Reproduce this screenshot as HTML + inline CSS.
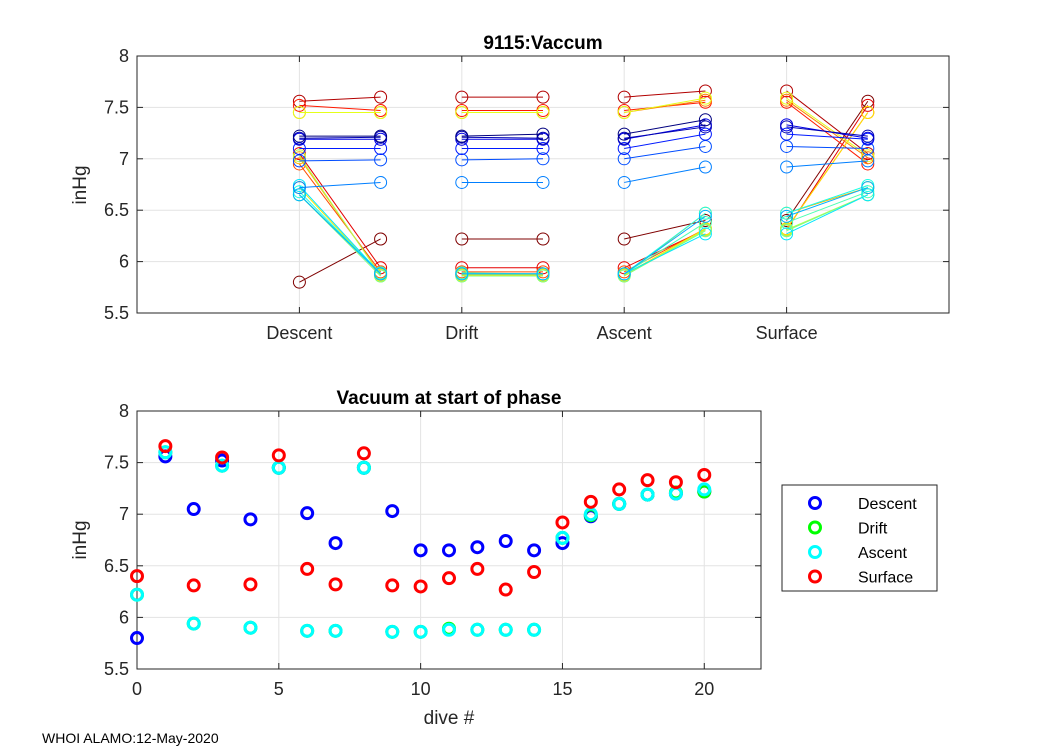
<!DOCTYPE html>
<html><head><meta charset="utf-8"><style>
body{margin:0;background:#fff;}
svg text{font-family:"Liberation Sans",sans-serif;}
</style></head><body>
<svg id="c" width="1050" height="750" xmlns="http://www.w3.org/2000/svg"></svg>
<script>
const dives=[0,1,2,3,4,5,6,7,8,9,10,11,12,13,14,15,16,17,18,19,20];
const descentV=[5.80,7.56,7.05,7.52,6.95,7.45,7.01,6.72,7.45,7.03,6.65,6.65,6.68,6.74,6.65,6.72,6.98,7.10,7.19,7.20,7.22];
const driftV=[6.22,7.60,5.94,7.47,5.90,7.45,5.87,5.87,7.45,5.86,5.86,5.89,5.88,5.88,5.88,6.77,6.99,7.10,7.19,7.21,7.22];
const ascentV=[6.22,7.60,5.94,7.47,5.90,7.45,5.87,5.87,7.45,5.86,5.86,5.88,5.88,5.88,5.88,6.77,7.00,7.10,7.19,7.20,7.24];
const surfaceV=[6.40,7.66,6.31,7.55,6.32,7.57,6.47,6.32,7.59,6.31,6.30,6.38,6.47,6.27,6.44,6.92,7.12,7.24,7.33,7.31,7.38];
const phases=["Descent","Drift","Ascent","Surface"];
const yTicks=[5.5,6,6.5,7,7.5,8];
const xTicks2=[0,5,10,15,20];
const svg=document.getElementById('c');const NS="http://www.w3.org/2000/svg";
function mk(t,a,p){const e=document.createElementNS(NS,t);for(const k in a)e.setAttribute(k,a[k]);(p||svg).appendChild(e);return e;}
function jet(v){const f=x=>Math.max(0,Math.min(1,x));const r=f(1.5-Math.abs(4*v-3)),g=f(1.5-Math.abs(4*v-2)),b=f(1.5-Math.abs(4*v-1));return `rgb(${r*255|0},${g*255|0},${b*255|0})`;}
// top axes
const T={x0:137,x1:949,y0:56,y1:313,xmin:0,xmax:5,ymin:5.5,ymax:8};
const B={x0:137,x1:761,y0:411,y1:669,xmin:0,xmax:22,ymin:5.5,ymax:8};
const sx=(A,v)=>A.x0+(v-A.xmin)/(A.xmax-A.xmin)*(A.x1-A.x0);
const sy=(A,v)=>A.y1-(v-A.ymin)/(A.ymax-A.ymin)*(A.y1-A.y0);
function axes(A,xt,xl,name){
 const g=mk('g',{});
 mk('rect',{x:A.x0,y:A.y0,width:A.x1-A.x0,height:A.y1-A.y0,fill:'#fff',stroke:'none'},g);
 xt.forEach((t,i)=>{const x=sx(A,t);mk('line',{x1:x,x2:x,y1:A.y0,y2:A.y1,stroke:'#e3e3e3'},g);
  mk('line',{x1:x,x2:x,y1:A.y1,y2:A.y1-6,stroke:'#262626'},g);mk('line',{x1:x,x2:x,y1:A.y0,y2:A.y0+6,stroke:'#262626'},g);
  const tx=mk('text',{x:x,y:A.y1+26,'text-anchor':'middle','font-size':18,fill:'#262626'},g);tx.textContent=xl[i];});
 yTicks.forEach(t=>{const y=sy(A,t);mk('line',{x1:A.x0,x2:A.x1,y1:y,y2:y,stroke:'#e3e3e3'},g);
  mk('line',{x1:A.x0,x2:A.x0+6,y1:y,y2:y,stroke:'#262626'},g);mk('line',{x1:A.x1,x2:A.x1-6,y1:y,y2:y,stroke:'#262626'},g);
  const tx=mk('text',{x:A.x0-8,y:y+6,'text-anchor':'end','font-size':18,fill:'#262626'},g);tx.textContent=t;});
 mk('rect',{x:A.x0,y:A.y0,width:A.x1-A.x0,height:A.y1-A.y0,fill:'none',stroke:'#262626'},g);
 return g;}
const gT=axes(T,[1,2,3,4],phases,'top-axes');
const gB=axes(B,xTicks2,xTicks2.map(String),'bottom-axes');
function txt(x,y,s,sz,name,extra){const t=mk('text',Object.assign({x:x,y:y,'font-size':sz,fill:'#000'},extra||{}));t.textContent=s;return t;}
txt(543,49,'9115:Vaccum',19,'top-title',{'text-anchor':'middle','font-weight':'bold'});
txt(449,404,'Vacuum at start of phase',19,'bottom-title',{'text-anchor':'middle','font-weight':'bold'});
txt(86,185,'inHg',19,'top-y-axis-title',{'text-anchor':'middle',transform:'rotate(-90 86 185)',fill:'#262626'});
txt(86,540,'inHg',19,'bottom-y-axis-title',{'text-anchor':'middle',transform:'rotate(-90 86 540)',fill:'#262626'});
txt(449,724,'dive #',19,'x-axis-title',{'text-anchor':'middle',fill:'#262626'});
txt(42,743,'WHOI ALAMO:12-May-2020',14,'footer-label');
// top series
const series=[descentV,driftV,ascentV,surfaceV];
dives.forEach((d,i)=>{
 const col=jet(1-i/(dives.length-1));
 const g=mk('g',{});
 for(let p=0;p<4;p++){
  let v1=series[p][i],v2;
  if(p<3)v2=series[p+1][i];else{if(i+1>=dives.length)continue;v2=descentV[i+1];}
  const xa=sx(T,p+1),xb=sx(T,p+1.5),ya=sy(T,v1),yb=sy(T,v2);
  mk('line',{x1:xa,y1:ya,x2:xb,y2:yb,stroke:col,'stroke-width':1},g);
  mk('circle',{cx:xa,cy:ya,r:6,fill:'none',stroke:col},g);
  mk('circle',{cx:xb,cy:yb,r:6,fill:'none',stroke:col},g);
 }});
// bottom series
const cols=['#0000ff','#00ff00','#00ffff','#ff0000'];
[0,1,2,3].forEach(p=>{
 const g=mk('g',{});
 dives.forEach((d,i)=>{mk('circle',{cx:sx(B,d),cy:sy(B,series[p][i]),r:5.5,fill:'none',stroke:cols[p],'stroke-width':3},g);});
});
// legend
const lg=mk('g',{});
mk('rect',{x:782,y:485,width:155,height:106,fill:'#fff',stroke:'#262626'},lg);
phases.forEach((p,i)=>{const y=503+i*24.5;
 const e=mk('g',{},lg);
 mk('circle',{cx:815,cy:y,r:5.5,fill:'none',stroke:cols[i],'stroke-width':3},e);
 const t=mk('text',{x:858,y:y+6,'font-size':16,fill:'#000'},e);t.textContent=p;});
</script>
</body></html>
